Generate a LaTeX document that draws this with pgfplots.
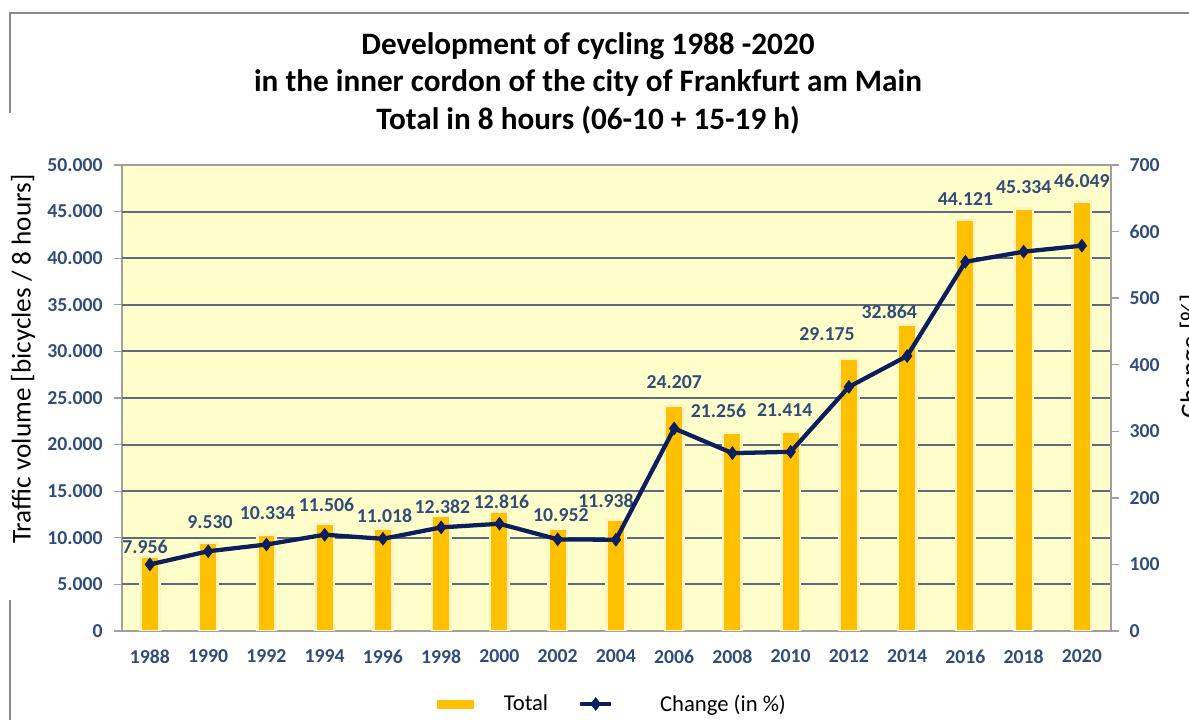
\documentclass[border=0pt]{standalone}
\usepackage{pgfplots}
\pgfplotsset{compat=1.18}
\usepackage{pgfplotstable}
\usepackage{fontspec}
\setmainfont{Carlito}
\definecolor{gold}{HTML}{FFC000}
\definecolor{glow}{HTML}{FFF4C2}
\definecolor{bgyellow}{HTML}{FFFFCC}
\definecolor{gridc}{HTML}{5E6B7B}
\definecolor{axisgrey}{HTML}{A0A0A0}
\definecolor{labelblue}{HTML}{2F4C7A}
\definecolor{navy}{HTML}{0B1F5C}
\definecolor{framegrey}{HTML}{8A8A8A}
\pgfplotsset{
  shortline legend/.style={legend image code/.code={\draw[mark repeat=2,mark phase=2,##1] plot coordinates {(0pt,0pt) (11.6pt,0pt) (23.25pt,0pt)};}},
  goldbox legend/.style={legend image code/.code={\fill[gold] (0pt,-3pt) rectangle (27pt,3pt);}},
}
\pgfplotstableread{
x year total change dx dy
0 1988 7956 100 -3.75 7.5
1 1990 9530 119.78 1.3 15
2 1992 10334 129.89 0.75 16.5
3 1994 11506 144.62 1.3 14.25
4 1996 11018 138.49 1.1 9.75
5 1998 12382 155.63 0.9 6.75
6 2000 12816 161.09 1.6 7.5
7 2002 10952 137.66 2.4 10.5
8 2004 11938 137.0 -7.5 14.25
9 2006 24207 304.26 0 17.25
10 2008 21256 267.17 -10.5 16.5
11 2010 21414 269.16 -4.5 15.75
12 2012 29175 366.71 -16.5 18.75
13 2014 32864 413.07 -13.5 9.75
14 2016 44121 554.56 0 15.75
15 2018 45334 569.81 0 16
16 2020 46049 578.79 0 15.75
}\datatable
\begin{document}
\begin{tikzpicture}
\pgfplotsset{/pgf/number format/assume math mode=true}
\draw[framegrey, line width=1.5pt] (7.5pt,455.25pt) -- (7.5pt,530.25pt) -- (900pt,530.25pt);
\draw[framegrey, line width=1.5pt] (7.5pt,-5pt) -- (7.5pt,90pt);
\node[anchor=base, font=\bfseries\fontsize{23.4}{28}\selectfont] at (441pt,498.75pt) {Development of cycling 1988 -2020};
\node[anchor=base, font=\bfseries\fontsize{23.4}{28}\selectfont] at (441pt,471pt) {in the inner cordon of the city of Frankfurt am Main};
\node[anchor=base, font=\bfseries\fontsize{23.4}{28}\selectfont] at (441pt,442.5pt) {Total in 8 hours (06-10 + 15-19 h)};
\begin{axis}[
  at={(91.5pt,66.75pt)}, anchor=south west, scale only axis,
  width=741.75pt, height=349.5pt,
  xmin=-0.48, xmax=16.5, ymin=0, ymax=50000,
  ybar, bar width=13.9pt,
  axis background/.style={fill=bgyellow},
  axis line style={draw=axisgrey, line width=1pt},
  ytick={0,5000,...,50000}, ytick pos=left, tick align=outside,
  major tick length=6pt, tick style={draw=axisgrey, line width=1pt},
  extra y ticks={5000,10000,...,45000}, extra y tick labels={},
  extra y tick style={ymajorgrids=true, major grid style={draw=gridc, line width=1.5pt}},
  xtick={0,...,16},
  xticklabels={1988,1990,1992,1994,1996,1998,2000,2002,2004,2006,2008,2010,2012,2014,2016,2018,2020},
  xtick style={draw=none},
  scaled y ticks=false,
  yticklabel style={/pgf/number format/1000 sep={.}, font=\bfseries\fontsize{14.8}{17}\selectfont, text=labelblue, xshift=-5pt},
  xticklabel style={font=\bfseries\fontsize{14.8}{17}\selectfont, text=labelblue, yshift=-4.5pt},
  ylabel={Traffic volume [bicycles / 8 hours]},
  ylabel style={at={(axis description cs:-0.1001,0.5837)}, anchor=center, font=\fontsize{20.4}{24}\selectfont},
  nodes near coords, point meta=explicit,
  nodes near coords style={/pgf/number format/1000 sep={.}},
  visualization depends on={\thisrow{dx} \as \dx},
  visualization depends on={\thisrow{dy} \as \dy},
  every node near coord/.append style={anchor=center, inner sep=0pt, xshift=\dx pt, yshift=\dy pt, font=\bfseries\fontsize{14.8}{17}\selectfont, text=labelblue},
]
\addplot[fill=gold, draw=glow, line width=2pt] table[x=x, y=total, meta=total] {\datatable};
\end{axis}
\begin{axis}[
  at={(91.5pt,66.75pt)}, anchor=south west, scale only axis,
  width=741.75pt, height=349.5pt,
  xmin=-0.48, xmax=16.5, ymin=0, ymax=700,
  axis y line*=right, axis x line=none,
  ytick={0,100,...,700}, tick align=outside,
  major tick length=6pt, tick style={draw=axisgrey, line width=1pt},
  axis line style={draw=axisgrey, line width=1pt},
  yticklabel style={font=\bfseries\fontsize{14.8}{17}\selectfont, text=labelblue, xshift=4.5pt},
  ylabel={Change [\%]},
  ylabel style={at={(axis description cs:1.0819,0.590)}, anchor=center, font=\fontsize{20.4}{24}\selectfont},
  legend style={at={(axis description cs:0.3185,-0.1567)}, anchor=west, draw=none, fill=none, inner sep=0pt,
    column sep=0pt, nodes={inner sep=0pt, font=\fontsize{17}{20}\selectfont, text=black}},
  legend columns=2, legend cell align=left,
]
\addlegendimage{goldbox legend}
\addlegendentry{\rule{22.5pt}{0pt}Total\rule{22.5pt}{0pt}}
\addplot[navy, line width=3.2pt, mark=diamond*, mark size=4.8pt, mark options={solid, line width=0.5pt}, shortline legend]
  table[x=x, y=change] {\datatable};
\addlegendentry{\rule{35pt}{0pt}Change (in \%)}
\end{axis}
\pgfresetboundingbox
\useasboundingbox (0pt,0pt) rectangle (891.75pt,540pt);
\end{tikzpicture}
\end{document}
